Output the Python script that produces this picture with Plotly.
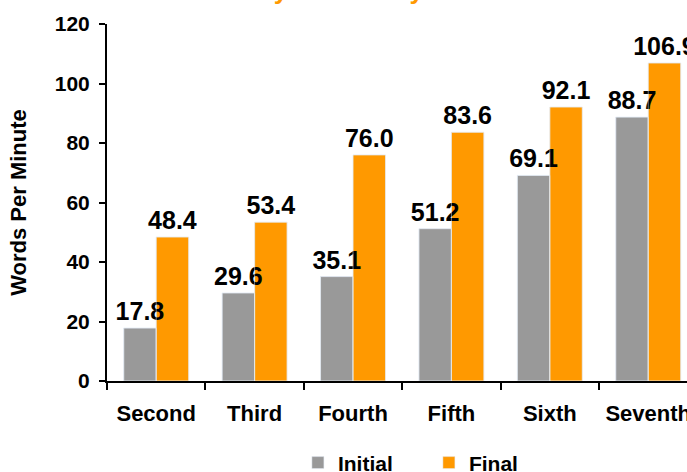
import plotly.graph_objects as go

grades = ["Second", "Third", "Fourth", "Fifth", "Sixth", "Seventh"]
initial = [17.8, 29.6, 35.1, 51.2, 69.1, 88.7]
final = [48.4, 53.4, 76.0, 83.6, 92.1, 106.9]
y_ticks = [0, 20, 40, 60, 80, 100, 120]
title_text = "Fluency Growth by Grade Level"

FONT = "Arial, 'Liberation Sans', sans-serif"
GRAY = "#999999"
ORANGE = "#FF9900"
LABEL_FONT = dict(family=FONT, size=25, color="black", weight="bold")

fig = go.Figure()
# visible bars
fig.add_trace(go.Bar(x=grades, y=initial, name="Initial", marker_color=GRAY,
                     offsetgroup="a"))
fig.add_trace(go.Bar(x=grades, y=final, name="Final", marker_color=ORANGE,
                     offsetgroup="b"))
# transparent copies on an overlaid axis carrying the value labels (drawn on top)
fig.add_trace(go.Bar(x=grades, y=initial, showlegend=False, xaxis="x2", yaxis="y2",
                     marker_color="rgba(0,0,0,0)", offsetgroup="a",
                     text=[f"{v:.1f}" for v in initial], textposition="outside",
                     textfont=LABEL_FONT, cliponaxis=False, constraintext="none",
                     hoverinfo="skip"))
fig.add_trace(go.Bar(x=grades, y=final, showlegend=False, xaxis="x2", yaxis="y2",
                     marker_color="rgba(0,0,0,0)", offsetgroup="b",
                     text=[f"{v:.1f}" for v in final], textposition="outside",
                     textfont=LABEL_FONT, cliponaxis=False, constraintext="none",
                     hoverinfo="skip"))

fig.update_layout(
    width=687, height=472,
    margin=dict(l=107, r=0, t=24, b=91, pad=0, autoexpand=False),
    paper_bgcolor="white", plot_bgcolor="white",
    barmode="group", bargap=0.34, bargroupgap=0,
    font=dict(family=FONT, color="black"),
    showlegend=True,
    legend=dict(
        orientation="h", xanchor="center", x=0.555, yanchor="bottom", y=-0.287,
        font=dict(family=FONT, size=21, color="black", weight="bold"),
        bgcolor="rgba(0,0,0,0)", itemwidth=30, entrywidth=86,
    ),
    annotations=[dict(
        text=title_text, xref="paper", yref="paper", x=0.479, y=(381 - 7) / 357,
        xanchor="center", yanchor="bottom", showarrow=False,
        font=dict(family=FONT, size=26, color=ORANGE, weight="bold"),
    )],
    xaxis=dict(
        range=[-0.5, 5.394], showline=True, linecolor="black", linewidth=2,
        ticks="outside", tickson="boundaries", ticklen=7, tickwidth=2, tickcolor="black",
        tickfont=dict(family=FONT, size=22, color="black", weight="bold"),
        ticklabelstandoff=12,
        showgrid=False, zeroline=False, automargin=False,
    ),
    yaxis=dict(
        range=[0, 120], tickvals=y_ticks, showline=True, linecolor="black", linewidth=2,
        ticks="outside", ticklen=6, tickwidth=2, tickcolor="black",
        tickfont=dict(family=FONT, size=21, color="black", weight="bold"),
        ticklabelstandoff=5,
        showgrid=False, zeroline=False, automargin=False,
        title=dict(text="Words Per Minute", standoff=22,
                   font=dict(family=FONT, size=22, color="black", weight="bold")),
    ),
    xaxis2=dict(overlaying="x", range=[-0.5, 5.394], visible=False, matches="x"),
    yaxis2=dict(overlaying="y", range=[0, 120], visible=False),
)

fig.write_html("out.html", config={"displayModeBar": False},
               post_script="document.body.style.margin='0';")
